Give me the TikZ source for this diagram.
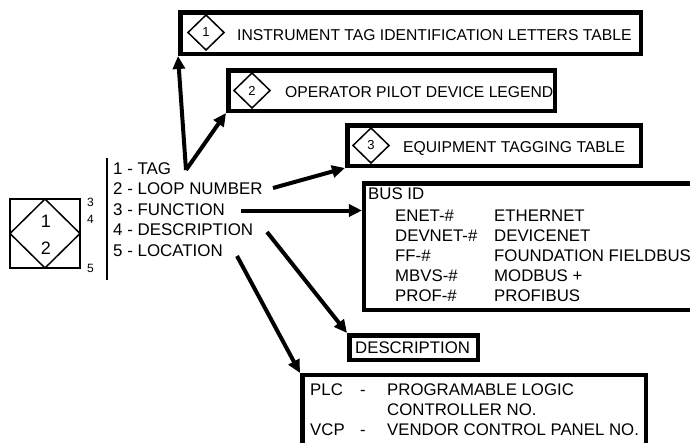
\documentclass[tikz,border=0pt]{standalone}
\usepackage{fontspec}
\setmainfont{Liberation Sans}
\usetikzlibrary{arrows.meta}
\begin{document}
\begin{tikzpicture}[x=1pt,y=-1pt,
  bigbox/.style={draw,line width=4.5pt,inner sep=0pt},
  lst/.style={anchor=base west,inner sep=0pt,font=\fontsize{16.9}{18}\selectfont},
  btxt/.style={anchor=base west,inner sep=0pt,font=\fontsize{15.7}{18}\selectfont},
  itxt/.style={anchor=base west,inner sep=0pt,font=\fontsize{16.8}{18}\selectfont},
  small/.style={anchor=base west,inner sep=0pt,font=\fontsize{12}{14}\selectfont},
  dnum/.style={inner sep=0pt,font=\fontsize{13}{14}\selectfont},
  arr/.style={line width=4pt,-{Triangle[length=13pt,width=12pt]}},
  dia/.style={draw,line width=1.5pt,line join=miter}
]
\useasboundingbox (0,0) rectangle (690,442);
\fill[white] (0,0) rectangle (690,442);

% left symbol
\draw[line width=1.8pt] (10,199) rectangle (80,268);
\draw[line width=1.5pt] (45,199) -- (80,233.5) -- (45,268) -- (10,233.5) -- cycle;
\node[inner sep=0pt,font=\fontsize{18}{20}\selectfont] (n1) at (46,221) {1};
\node[inner sep=0pt,font=\fontsize{18}{20}\selectfont] (n2) at (46,248) {2};
\node[small] (f3) at (87,206) {3};
\node[small] (f4) at (87,223) {4};
\node[small] (f5) at (87,272) {5};
\draw[line width=2pt] (107,158) -- (107,280);

% list
\node[lst] (l1) at (113,174) {1 - TAG};
\node[lst] (l2) at (113,194.5) {2 - LOOP NUMBER};
\node[lst] (l3) at (113,215) {3 - FUNCTION};
\node[lst] (l4) at (113,235.5) {4 - DESCRIPTION};
\node[lst] (l5) at (113,256) {5 - LOCATION};

% box 1
\node[bigbox,minimum width=460.5pt,minimum height=41.5pt] (b1) at (410.5,33) {};
\draw[dia] (206,15) -- (224,32.5) -- (206,50) -- (188,32.5) -- cycle;
\node[dnum] (d1) at (206,32.5) {1};
\node[btxt] (t1) at (237,40) {INSTRUMENT TAG IDENTIFICATION LETTERS TABLE};

% box 2
\node[bigbox,minimum width=326.5pt,minimum height=40.5pt] (b2) at (391.5,90.5) {};
\draw[dia] (252,73) -- (270,90.5) -- (252,108) -- (234,90.5) -- cycle;
\node[dnum] (d2) at (252,90.5) {2};
\node[btxt] (t2) at (285,97) {OPERATOR PILOT DEVICE LEGEND};

% box 3
\node[bigbox,minimum width=293.5pt,minimum height=40.5pt] (b3) at (494,145.5) {};
\draw[dia] (371,128) -- (389,145.5) -- (371,163) -- (353,145.5) -- cycle;
\node[dnum] (d3) at (371,145.5) {3};
\node[btxt] (t3) at (403,152) {EQUIPMENT TAGGING TABLE};

% bus box
\node[bigbox,minimum width=355.75pt,minimum height=126.5pt] (bus) at (542.1,246.5) {};
\node[itxt] (bid) at (368,199.5) {BUS ID};
\node[itxt] (e1) at (395,221) {ENET-\#};
\node[itxt] (e2) at (395,241) {DEVNET-\#};
\node[itxt] (e3) at (395,261) {FF-\#};
\node[itxt] (e4) at (395,281) {MBVS-\#};
\node[itxt] (e5) at (395,301.5) {PROF-\#};
\node[itxt] (v1) at (494,221) {ETHERNET};
\node[itxt] (v2) at (494,241) {DEVICENET};
\node[itxt] (v3) at (494,261) {FOUNDATION FIELDBUS};
\node[itxt] (v4) at (494,281) {MODBUS +};
\node[itxt] (v5) at (494,301.5) {PROFIBUS};

% description box
\node[bigbox,minimum width=128.5pt,minimum height=24.5pt] (desc) at (413.5,347.5) {};
\node[itxt] (dt) at (355,353.5) {DESCRIPTION};

% plc box
\node[bigbox,minimum width=343.5pt,minimum height=94.75pt] (plc) at (474,422.6) {};
\node[itxt] (p1) at (310,395) {PLC};
\node[itxt] (p1d) at (360,395) {-};
\node[itxt] (p1t) at (387,395) {PROGRAMABLE LOGIC};
\node[itxt] (p2t) at (387,415) {CONTROLLER NO.};
\node[itxt] (p3) at (310,435) {VCP};
\node[itxt] (p3d) at (360,435) {-};
\node[itxt] (p3t) at (387,435) {VENDOR CONTROL PANEL NO.};

% arrows
\coordinate (s1) at (186,170);
\coordinate (s3) at (273,188);
\coordinate (s4) at (241,210.5);
\coordinate (s5) at (267,232);
\coordinate (s6) at (237,256);
\draw[arr] (s1) -- (b1.south west);
\draw[arr] (s1) -- (b2.south west);
\draw[arr] (s3) -- (b3.south west);
\draw[arr] (s4) -- (s4 -| bus.west);
\draw[arr] (s5) -- (desc.north west);
\draw[arr] (s6) -- (plc.north west);
\end{tikzpicture}
\end{document}
